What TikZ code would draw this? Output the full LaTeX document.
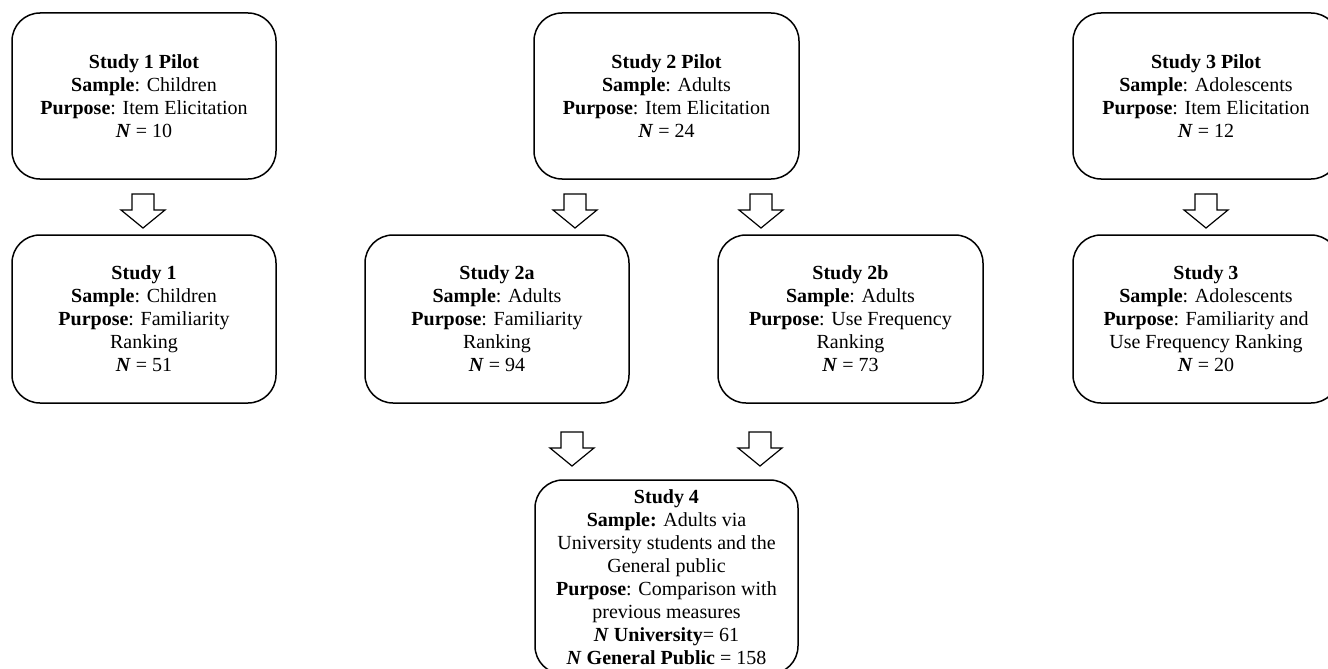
\documentclass[tikz,border=0pt]{standalone}
\usepackage{fontspec}
\setmainfont{Liberation Serif}
\begin{document}
\begin{tikzpicture}[x=1pt,y=-1pt,
  box/.style={draw=black, line width=1.5pt, rounded corners=28pt, inner sep=0pt,
    align=center, font=\fontsize{20}{23}\selectfont, text=black},
  blockarrow/.pic={\draw[line width=1.2pt, line join=miter] (-11,0) -- (11,0) -- (11,16) -- (22,16) -- (0,34) -- (-22,16) -- (-11,16) -- cycle;}
]
\useasboundingbox (0,0) rectangle (1328,669);
\newcommand{\NN}{\textbf{\textit{N}}}

\node[box, minimum width=264pt, minimum height=166pt] (s1p) at (144,96)
  {\textbf{Study 1 Pilot}\\\textbf{Sample}: Children\\\textbf{Purpose}: Item Elicitation\\\NN{} = 10};
\node[box, minimum width=265pt, minimum height=166pt] (s2p) at (666.5,96)
  {\textbf{Study 2 Pilot}\\\textbf{Sample}: Adults\\\textbf{Purpose}: Item Elicitation\\\NN{} = 24};
\node[box, minimum width=266pt, minimum height=166pt] (s3p) at (1206,96)
  {\textbf{Study 3 Pilot}\\\textbf{Sample}: Adolescents\\\textbf{Purpose}: Item Elicitation\\\NN{} = 12};

\node[box, minimum width=264pt, minimum height=168pt] (s1) at (144,319)
  {\textbf{Study 1}\\\textbf{Sample}: Children\\\textbf{Purpose}: Familiarity\\Ranking\\\NN{} = 51};
\node[box, minimum width=264pt, minimum height=168pt] (s2a) at (497,319)
  {\textbf{Study 2a}\\\textbf{Sample}: Adults\\\textbf{Purpose}: Familiarity\\Ranking\\\NN{} = 94};
\node[box, minimum width=265pt, minimum height=168pt] (s2b) at (850.5,319)
  {\textbf{Study 2b}\\\textbf{Sample}: Adults\\\textbf{Purpose}: Use Frequency\\Ranking\\\NN{} = 73};
\node[box, minimum width=266pt, minimum height=168pt] (s3) at (1206,319)
  {\textbf{Study 3}\\\textbf{Sample}: Adolescents\\\textbf{Purpose}: Familiarity and\\Use Frequency Ranking\\\NN{} = 20};

\node[box, minimum width=263pt, minimum height=194pt] (s4) at (666.5,577)
  {\textbf{Study 4}\\\textbf{Sample:} Adults via\\University students and the\\General public\\\textbf{Purpose}: Comparison with\\previous measures\\\NN{} \textbf{University}= 61\\\NN{} \textbf{General Public} = 158};

\coordinate (a1) at (143,194);
\coordinate (a2) at (575,194);
\coordinate (a3) at (761,194);
\coordinate (a4) at (1206,194);
\coordinate (a5) at (572,432);
\coordinate (a6) at (760,432);
\pic at (a1) {blockarrow};
\pic at (a2) {blockarrow};
\pic at (a3) {blockarrow};
\pic at (a4) {blockarrow};
\pic at (a5) {blockarrow};
\pic at (a6) {blockarrow};
\end{tikzpicture}
\end{document}
